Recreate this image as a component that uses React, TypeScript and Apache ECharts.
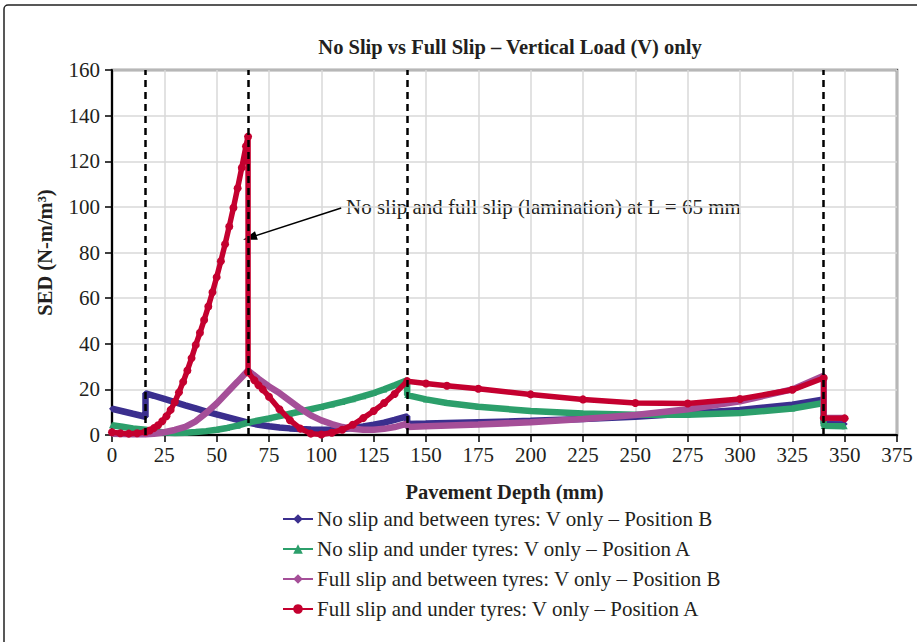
import React, { useEffect, useRef } from "react";
import * as echarts from "echarts";

const seriesNames = [
  "No slip and between tyres: V only – Position B",
  "No slip and under tyres: V only – Position A",
  "Full slip and between tyres: V only – Position B",
  "Full slip and under tyres: V only – Position A",
];

const xTicks = { min: 0, max: 375, interval: 25 };
const yTicks = { min: 0, max: 160, interval: 20 };

const layerBoundaries = [16, 65, 141, 340];

const noSlipBetween: [number, number][] = [
  [0, 11.5], [5, 10.4], [10, 9.3], [16, 8], [16, 18.3], [20, 17.2], [25, 15.8], [30, 14.4],
  [35, 13], [40, 11.7], [45, 10.3], [50, 9], [55, 7.8], [60, 6.6], [65, 5.4], [70, 4.5],
  [75, 3.8], [80, 3.3], [85, 2.9], [90, 2.6], [95, 2.4], [100, 2.3], [105, 2.3], [110, 2.6],
  [115, 3.1], [120, 3.7], [125, 4.5], [130, 5.4], [135, 6.6], [141, 8.2], [141, 4.8],
  [150, 5], [175, 5.6], [200, 6.2], [225, 7], [250, 8], [275, 9.4], [300, 11], [325, 13.3],
  [340, 15.6], [340, 5], [350, 4.8],
];

const noSlipUnder: [number, number][] = [
  [0, 4.3], [5, 3.6], [10, 2.9], [16, 2.3], [20, 1.6], [25, 1.1], [30, 0.9], [35, 1],
  [40, 1.3], [45, 1.7], [50, 2.3], [55, 3.1], [60, 4.1], [65, 5.4], [70, 6.4], [75, 7.3],
  [80, 8.3], [85, 9.3], [90, 10.3], [95, 11.3], [100, 12.3], [105, 13.4], [110, 14.5],
  [115, 15.7], [120, 17], [125, 18.4], [130, 20], [135, 21.8], [141, 24], [141, 17.5],
  [150, 15.6], [160, 14], [175, 12.4], [200, 10.5], [225, 9.4], [250, 8.9], [275, 8.9],
  [300, 9.6], [325, 11.6], [340, 14], [340, 4], [350, 3.8],
];

const fullSlipBetween: [number, number][] = [
  [0, 0.6], [5, 0.4], [10, 0.3], [16, 0.3], [20, 0.5], [25, 1.2], [30, 2.2], [35, 3.6],
  [40, 6], [45, 9.7], [50, 13.8], [55, 18.6], [60, 23.4], [65, 28.3], [70, 24.6], [75, 21.3],
  [80, 18.4], [85, 15], [90, 11.6], [95, 8.6], [100, 6.4], [105, 4.8], [110, 3.5], [115, 2.7],
  [120, 2.3], [125, 2.3], [130, 2.7], [135, 3.5], [141, 5], [141, 3.5], [150, 3.8],
  [175, 4.6], [200, 5.6], [225, 7], [250, 8.8], [275, 11.3], [300, 14.8], [325, 20],
  [340, 26], [340, 7.6], [350, 7.4],
];

const fullSlipUnder: [number, number][] = [
  [0, 1.2], [4, 0.8], [8, 0.6], [12, 0.8], [16, 1.3], [18, 2], [20, 3], [22, 4.3], [24, 6],
  [26, 8.2], [28, 11], [30, 14.5], [32, 18.7], [34, 23.3], [36, 28.3], [38, 33.7], [40, 39.5],
  [42, 44.8], [44, 50.4], [46, 56.3], [48, 62.6], [50, 69.2], [52, 76.2], [54, 83.6],
  [56, 91.4], [58, 99.6], [60, 108.2], [62, 117.2], [64, 126.6], [65, 130.8], [65, 27.5],
  [68, 24], [70, 21.8], [72, 20], [75, 16.8], [80, 11.3], [85, 6.5], [90, 2.8], [95, 0.6],
  [100, 0.2], [105, 1], [110, 2.3], [115, 4.5], [120, 7.4], [125, 10.5], [130, 14], [135, 18],
  [141, 23.6], [150, 22.6], [160, 21.6], [175, 20.3], [200, 17.8], [225, 15.6], [250, 14],
  [275, 13.8], [300, 15.8], [325, 19.8], [340, 25], [340, 7.5], [350, 7.3],
];

const annotationText = "No slip and full slip (lamination) at L = 65 mm";
const arrowFrom: [number, number] = [109.5, 99.5];
const arrowTo: [number, number] = [65.8, 86.5];

const colors = ["#3b2f8e", "#2c9f6b", "#a54f98", "#c4002f"];
const symbols = ["diamond", "triangle", "diamond", "circle"];
const FONT = "Liberation Serif";
const TXT = "#231f20";

export default function App() {
  const ref = useRef<HTMLDivElement>(null);
  useEffect(() => {
    if (!ref.current) return;
    const chart = echarts.init(ref.current, undefined, { renderer: "svg" });
    const datasets = [noSlipBetween, noSlipUnder, fullSlipBetween, fullSlipUnder];
    const series: any[] = datasets.map((d, i) => ({
      name: seriesNames[i],
      type: "line",
      data: d,
      symbol: symbols[i],
      symbolSize: i === 3 ? 8 : 6,
      showSymbol: true,
      lineStyle: { color: colors[i], width: i === 3 ? 5.5 : 6.5 },
      itemStyle: { color: colors[i] },
      z: 2 + i,
    }));
    series.push({
      name: "boundaries",
      type: "line",
      data: [],
      z: 10,
      markLine: {
        silent: true,
        symbol: "none",
        label: { show: false },
        lineStyle: { color: "#000", width: 2.5, type: [7, 5] },
        data: layerBoundaries.map((x) => ({ xAxis: x })),
        z: 10,
      },
    });
    series.push({
      name: "arrow",
      type: "line",
      data: [],
      z: 11,
      markLine: {
        silent: true,
        symbol: ["none", "triangle"],
        symbolSize: [9, 14],
        label: { show: false },
        lineStyle: { color: "#000", width: 1.5, type: "solid" },
        data: [[{ coord: arrowFrom }, { coord: arrowTo }]],
      },
    });
    chart.setOption({
      animation: false,
      backgroundColor: "#fff",
      title: {
        text: "No Slip vs Full Slip – Vertical Load (V) only",
        left: 505,
        top: 31,
        textAlign: "center",
        textStyle: { fontFamily: FONT, fontSize: 20.5, fontWeight: "bold", color: TXT },
      },
      grid: {
        left: 112,
        right: 20,
        top: 70,
        bottom: 207,
        show: true,
        borderColor: "#555",
        borderWidth: 2.5,
        containLabel: false,
      },
      xAxis: {
        type: "value",
        min: xTicks.min,
        max: xTicks.max,
        interval: xTicks.interval,
        name: "Pavement Depth (mm)",
        nameLocation: "middle",
        nameGap: 46,
        nameTextStyle: { fontFamily: FONT, fontSize: 20.5, fontWeight: "bold", color: TXT },
        axisLine: { lineStyle: { color: "#000", width: 2 } },
        axisTick: { show: true, length: 7, lineStyle: { color: "#000", width: 1.5 } },
        axisLabel: { fontFamily: FONT, fontSize: 21, color: TXT, margin: 9 },
        splitLine: { show: true, lineStyle: { color: "#d9d9d9", width: 1.5 } },
      },
      yAxis: {
        type: "value",
        min: yTicks.min,
        max: yTicks.max,
        interval: yTicks.interval,
        name: "SED (N-m/m³)",
        nameLocation: "middle",
        nameGap: 57,
        nameTextStyle: { fontFamily: FONT, fontSize: 20.5, fontWeight: "bold", color: TXT },
        axisLine: { show: true, lineStyle: { color: "#000", width: 2 } },
        axisTick: { show: true, length: 7, lineStyle: { color: "#000", width: 1.5 } },
        axisLabel: { fontFamily: FONT, fontSize: 21, color: TXT, margin: 12 },
        splitLine: { show: true, lineStyle: { color: "#d9d9d9", width: 1.5 } },
      },
      legend: {
        data: seriesNames,
        orient: "vertical",
        left: 277,
        top: 503,
        itemWidth: 30,
        itemHeight: 12,
        itemGap: 8,
        textStyle: { fontFamily: FONT, fontSize: 21, color: TXT, lineHeight: 22, padding: [0, 0, 0, -1] },
      },
      graphic: [
        {
          type: "rect",
          shape: { x: 4, y: 5, width: 940, height: 680, r: 4 },
          style: { fill: "none", stroke: "#222", lineWidth: 1.5 },
          silent: true,
        },
        {
          type: "text",
          left: 346,
          top: 196,
          style: { text: annotationText, fontFamily: FONT, fontSize: 21, fill: TXT },
        },
      ],
      series,
    });
    return () => chart.dispose();
  }, []);
  return (
    <div
      ref={ref}
      style={{ position: "absolute", left: 0, top: 0, width: 917, height: 642, background: "#fff" }}
    />
  );
}
